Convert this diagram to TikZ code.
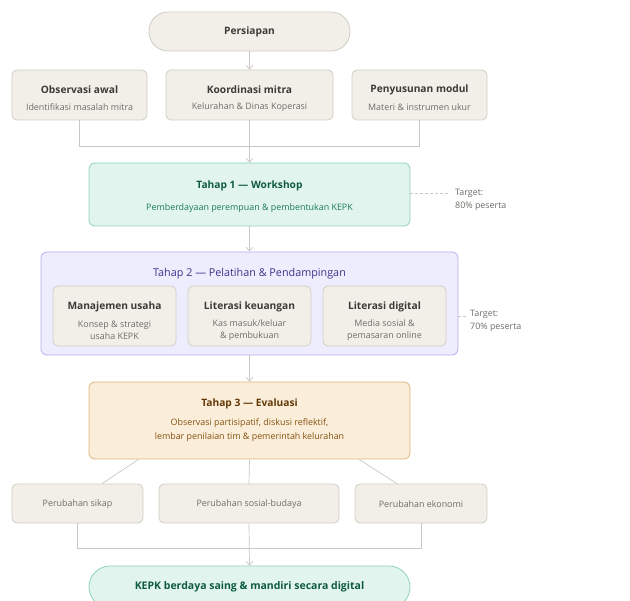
\documentclass[tikz,border=0pt]{standalone}
\usepackage{fontspec}
\setmainfont{Open Sans}
\usetikzlibrary{arrows.meta,positioning}
\definecolor{gfill}{HTML}{F1EFE8}
\definecolor{gdraw}{HTML}{D0CDC4}
\definecolor{gtitle}{HTML}{3A3A38}
\definecolor{gsub}{HTML}{6E6D68}
\definecolor{tfill}{HTML}{E1F5EE}
\definecolor{tdraw}{HTML}{8ED3B8}
\definecolor{ttitle}{HTML}{0F5A44}
\definecolor{tsub}{HTML}{1D7A5C}
\definecolor{pfill}{HTML}{EEEDFE}
\definecolor{pdraw}{HTML}{B3AEEE}
\definecolor{ptitle}{HTML}{3C3489}
\definecolor{ofill}{HTML}{FAEEDA}
\definecolor{odraw}{HTML}{DDB57C}
\definecolor{otitle}{HTML}{633806}
\definecolor{osub}{HTML}{855210}
\definecolor{lin}{HTML}{C9C8C4}
\tikzset{
  box/.style={draw=gdraw, fill=gfill, rounded corners=5pt, line width=0.8pt, inner sep=0pt},
  pill/.style={line width=0.8pt, inner sep=0pt},
  ttl/.style={font=\fontsize{10.2}{12}\selectfont\bfseries, text=gtitle, inner sep=0pt},
  sub/.style={font=\fontsize{8.9}{12}\selectfont, text=gsub, inner sep=0pt, align=center},
  con/.style={draw=lin, line width=0.7pt},
  arr/.style={con, -{Straight Barb[length=4pt,width=7pt]}},
  dsh/.style={draw=lin, line width=0.7pt, dash pattern=on 3pt off 2pt},
}
\begin{document}
\begin{tikzpicture}[x=1pt,y=-1pt]
\useasboundingbox (0,0) rectangle (630,601);
\clip (0,0) rectangle (630,601);
% Persiapan
\node[pill, rounded corners=19pt, draw=gdraw, fill=gfill, minimum width=201pt, minimum height=39pt] (prep) at (249.5,31.5) {};
\node[ttl] (prept) at (249.5,31.5) {Persiapan};
% top boxes
\node[box, minimum width=135pt, minimum height=50pt] (obs) at (79.5,95) {};
\node[box, minimum width=167pt, minimum height=50pt] (koo) at (249.5,95) {};
\node[box, minimum width=135pt, minimum height=50pt] (pen) at (419.5,95) {};
\node[ttl] (obst) at (79.5,90) {Observasi awal};
\node[sub] (obss) at (79.5,107) {Identifikasi masalah mitra};
\node[ttl] (koot) at (249.5,90) {Koordinasi mitra};
\node[sub] (koos) at (249.5,107) {Kelurahan \& Dinas Koperasi};
\node[ttl] (pent) at (419.5,90) {Penyusunan modul};
\node[sub] (pens) at (419.5,107) {Materi \& instrumen ukur};
% Tahap 1
\node[draw=tdraw, fill=tfill, rounded corners=6pt, line width=0.8pt, minimum width=321pt, minimum height=63pt, inner sep=0pt] (t1) at (249.5,194.5) {};
\node[ttl, text=ttitle] (t1t) at (249.5,186) {Tahap 1 — Workshop};
\node[sub, text=tsub] (t1s) at (249.5,208) {Pemberdayaan perempuan \& pembentukan KEPK};
% Tahap 2
\node[draw=pdraw, fill=pfill, rounded corners=6pt, line width=0.8pt, minimum width=417pt, minimum height=103pt, inner sep=0pt] (t2) at (249.5,303.5) {};
\node[ttl, text=ptitle, font=\fontsize{10.8}{12}\selectfont] (t2t) at (249.5,274) {Tahap 2 — Pelatihan \& Pendampingan};
\node[box, minimum width=123pt, minimum height=60pt] (m1) at (114.5,316) {};
\node[box, minimum width=123pt, minimum height=60pt] (m2) at (249.5,316) {};
\node[box, minimum width=123pt, minimum height=60pt] (m3) at (384.5,316) {};
\node[ttl] (m1t) at (114.5,307) {Manajemen usaha};
\node[sub] (m1s) at (114.5,330) {Konsep \& strategi\\usaha KEPK};
\node[ttl] (m2t) at (249.5,307) {Literasi keuangan};
\node[sub] (m2s) at (249.5,330) {Kas masuk/keluar\\\& pembukuan};
\node[ttl] (m3t) at (384.5,307) {Literasi digital};
\node[sub] (m3s) at (384.5,330) {Media sosial \&\\pemasaran online};
% Tahap 3
\node[draw=odraw, fill=ofill, rounded corners=6pt, line width=0.8pt, minimum width=321pt, minimum height=77pt, inner sep=0pt] (t3) at (249.5,420.5) {};
\node[ttl, text=otitle] (t3t) at (249.5,404) {Tahap 3 — Evaluasi};
\node[sub, text=osub, font=\fontsize{8.9}{14}\selectfont] (t3s) at (249.5,430) {Observasi partisipatif, diskusi reflektif,\\lembar penilaian tim \& pemerintah kelurahan};
% bottom boxes
\node[box, minimum width=131pt, minimum height=39pt] (b1) at (77.5,503.5) {};
\node[box, minimum width=180pt, minimum height=39pt] (b2) at (249,503.5) {};
\node[box, minimum width=132pt, minimum height=39pt] (b3) at (421,503.5) {};
\node[sub] (b1t) at (77.5,504) {Perubahan sikap};
\node[sub] (b2t) at (249,504) {Perubahan sosial-budaya};
\node[sub] (b3t) at (421,504) {Perubahan ekonomi};
% final
\node[pill, rounded corners=21pt, draw=tdraw, fill=tfill, minimum width=321pt, minimum height=42pt] (fin) at (249.5,587) {};
\node[ttl, text=ttitle, font=\fontsize{10.5}{12}\selectfont\bfseries] (fint) at (249.5,587) {KEPK berdaya saing \& mandiri secara digital};
% targets
\node[sub, anchor=west, align=left, font=\fontsize{8.9}{13}\selectfont] (tg1) at (455,199.5) {Target:\\80\% peserta};
\node[sub, anchor=west, align=left, font=\fontsize{8.9}{13}\selectfont] (tg2) at (470,320.5) {Target:\\70\% peserta};
% connectors
\draw[arr] (prep.south) -- (koo.north);
\coordinate (j1) at (79.5,146);
\coordinate (j2) at (419.5,146);
\draw[con] (obs.south) -- (j1) -- (j2) -- (pen.south);
\draw[arr] (koo.south) -- (t1.north);
\draw[arr] (t1.south) -- (t2.north);
\draw[arr] (t2.south) -- (t3.north);
\draw[con] ([xshift=-111pt]t3.south) -- ([xshift=24.5pt]b1.north);
\draw[con] (t3.south) -- (b2.north);
\draw[con] ([xshift=109.5pt]t3.south) -- ([xshift=-24pt]b3.north);
\coordinate (k1) at (77.5,548);
\coordinate (k2) at (421,548);
\draw[con] (b1.south) -- (k1) -- (k2) -- (b3.south);
\draw[arr] (b2.south) -- (fin.north);
\coordinate (d1) at (450,193);
\draw[dsh] (t1.east |- d1) -- (d1);
\coordinate (d2) at (468,316);
\draw[dsh] (t2.east |- d2) -- (d2);
\end{tikzpicture}
\end{document}
